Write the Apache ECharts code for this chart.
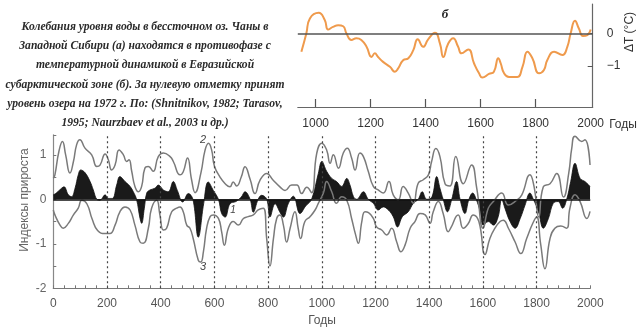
<!DOCTYPE html>
<html><head><meta charset="utf-8">
<script src="https://cdn.jsdelivr.net/npm/echarts@6/dist/echarts.min.js"></script>
<style>html,body{margin:0;padding:0;background:#fff}#c{width:640px;height:329px}</style>
</head><body><div id="c"></div>
<script>
// Top panel (б): temperature anomaly
const tYears = [948,966,979,1011,1033,1045,1063,1082,1100,1112,1130,1148,1166,1185,1203,1215,1227,1245,1270,1288,1300,1318,1337,1355,1371,1391,1409,1434,1452,1464,1482,1500,1518,1530,1555,1576,1594,1606,1630,1648,1664,1673,1685,1703,1733,1752,1770,1788,1812,1830,1842,1867,1897,1915,1927,1943,1957,1972,1988,2000];
const tVals  = [-0.56,0,0.46,0.63,0.41,0.12,0.2,0.25,0.22,0,-0.2,-0.15,-0.2,-0.41,-0.72,-0.61,-0.72,-0.87,-1.02,-1.17,-1.07,-0.82,-0.76,-0.51,-0.18,-0.41,-0.18,0.02,-0.31,-0.72,-0.31,-0.15,-0.41,-0.61,-0.49,-0.92,-1.22,-1.35,-1.24,-1.17,-0.76,-0.92,-1.22,-1.33,-1.33,-1.02,-0.56,-0.76,-1.22,-1.12,-0.82,-0.56,-0.66,-0.41,0,0.39,0.15,-0.08,-0.05,0.12];
const topXTicks = [1000,1200,1400,1600,1800];
const topXLabels = [1000,1200,1400,1600,1800,2000];
const topYLabels = [0,-1];

// Bottom panel: growth indices, curve 2 (upper)
const u2Years = [0,6,21,34,46,62,75,87,99,118,143,162,174,193,205,217,230,245,261,273,282,292,304,317,329,341,354,372,391,410,435,447,472,484,500,515,528,550,565,578,590,600,621,640,658,670,683,700,714,733,751,770,795,819,844,863,888,907,925,944,962,981,1000,1018,1031,1043,1062,1080,1095,1111,1124,1142,1155,1173,1192,1210,1229,1250,1266,1285,1303,1322,1341,1359,1378,1397,1409,1425,1440,1459,1477,1499,1527,1558,1577,1601,1620,1639,1670,1695,1726,1745,1775,1790,1808,1825,1850,1875,1900,1920,1931,1943,1968,1980,1999];
const u2Vals  = [0.47,0.55,1.08,1.3,1.0,0.59,0.85,1.23,1.34,1.15,1.0,0.74,0.77,1.02,0.89,0.66,0.77,1.11,1.0,0.85,0.89,0.63,0.29,0.17,0.29,0.7,0.74,0.63,0.96,1.04,0.96,0.85,0.55,0.62,0.93,0.44,0.15,0.6,1.1,1.26,1.1,0.75,0.5,0.35,0.28,0.39,0.3,0.5,0.73,0.45,0.13,0.43,0.58,0.43,0.28,0.2,0.32,0.32,0.13,0.27,0.15,1.03,1.26,1.11,0.81,1.0,0.7,1.04,1.15,0.93,0.66,1.04,0.96,0.63,0.29,0.21,0.14,0.4,0.1,-0.01,0.29,0.14,-0.09,0.36,0.44,0.55,0.85,1.14,0.96,0.35,0.3,0.96,0.35,0.77,0.25,-0.65,-0.2,-0.05,0.14,-0.13,-0.02,0.1,0.55,0.3,-0.4,0.28,0.35,0.58,0.05,0.6,1.15,1.42,1.3,1.34,0.77];

// curve 3 (lower)
const l3Years = [0,6,25,37,56,75,93,106,125,145,165,193,211,230,248,267,286,304,323,335,354,366,385,397,410,422,441,459,472,484,497,509,521,540,549,559,571,584,596,615,627,637,652,670,689,708,726,745,763,782,795,807,820,832,844,857,869,882,900,912,921,937,956,975,987,1006,1018,1037,1055,1074,1093,1111,1126,1136,1149,1161,1174,1192,1204,1223,1242,1260,1279,1295,1310,1329,1347,1366,1385,1403,1415,1434,1452,1471,1480,1508,1527,1545,1564,1585,1608,1626,1645,1664,1676,1695,1720,1741,1763,1785,1800,1815,1831,1850,1868,1890,1912,1924,1943,1962,1987,1999];
const l3Vals  = [-0.24,-0.35,-0.58,-0.65,-0.54,-0.35,-0.2,-0.02,-0.1,-0.45,-0.7,-0.77,-0.77,-0.58,-0.28,-0.17,-0.24,-0.58,-0.96,-0.99,-0.65,-0.2,-0.02,-0.35,-0.69,-0.65,-0.28,-0.2,-0.17,-0.28,-0.58,-0.65,-0.88,-1.37,-1.41,-1.18,-0.65,-0.39,-0.35,-0.43,-0.73,-1.03,-0.65,-0.5,-0.58,-0.43,-0.39,-0.35,-0.24,-0.2,-0.9,-1.5,-0.88,-0.43,-0.35,-0.58,-0.96,-0.65,-0.28,-0.65,-0.88,-0.5,-0.39,-0.24,-0.09,0.14,0.4,0.17,-0.09,0.06,-0.02,-0.43,-0.8,-0.99,-0.5,-0.28,-0.3,-0.43,-0.62,-0.69,-0.8,-0.65,-0.96,-1.18,-1.03,-0.65,-0.5,-0.32,-0.35,-0.54,-0.28,-0.05,-0.32,-0.73,-0.65,-0.35,-0.65,-0.55,-0.35,-0.5,-1.24,-0.88,-0.65,-0.5,-0.47,-0.65,-0.96,-1.22,-0.88,-0.55,-0.4,-1.0,-1.56,-0.88,-0.65,-0.6,-0.65,-0.2,0.1,-0.05,-0.43,-0.27];

// curve 1 (mean, filled black)
const m1Years = [0,11,31,40,56,68,81,93,102,118,137,149,162,174,193,205,220,236,248,267,286,298,310,323,329,339,348,360,379,391,410,428,447,462,482,503,520,540,560,577,596,615,627,640,658,680,700,714,733,745,763,776,795,807,826,845,857,875,894,919,940,962,987,1000,1018,1037,1055,1074,1093,1105,1118,1130,1155,1173,1192,1210,1229,1248,1266,1282,1300,1322,1341,1359,1374,1391,1410,1428,1440,1452,1468,1484,1502,1515,1533,1548,1562,1575,1590,1601,1620,1639,1657,1670,1682,1701,1720,1739,1757,1775,1788,1807,1825,1844,1862,1880,1897,1912,1927,1943,1962,1980,1999];
const m1Vals  = [0.1,0.14,0.25,0.28,0.1,0.06,0.25,0.55,0.66,0.6,0.4,0.21,0,-0.02,0.1,0.02,0.02,0.32,0.51,0.4,0.29,0.17,0,-0.43,-0.54,-0.2,0.14,0.21,0.25,0.32,0.21,0.17,0.4,0.2,-0.06,0.13,0,-0.85,-0.1,0.39,0.2,0,-0.32,-0.4,-0.1,-0.05,0.05,0.17,0,-0.29,0,0.09,0,-0.4,-0.1,-0.3,-0.4,-0.1,0.07,-0.32,-0.15,0,0.58,0.85,0.63,0.47,0.4,0.29,0.47,0.32,0.06,0,0.17,0,-0.09,-0.24,-0.17,-0.24,-0.39,-0.62,-0.39,-0.28,-0.09,0,0.17,0,0.05,0.51,0.25,0,-0.28,0,0.4,0,-0.32,0,0.14,0,-0.28,-0.58,-0.5,-0.58,-0.39,0,-0.2,-0.5,-0.65,-0.43,-0.13,0.14,0,-0.28,-0.65,-0.43,-0.09,-0.05,-0.2,0,0.4,0.81,0.47,0.4,0.29];
const botDashed = [200,400,600,800,1000,1200,1400,1600,1800];

const zip = (a,b) => a.map((x,i)=>[x,b[i]]);
const minus = v => (v < 0 ? '\u2212' + Math.abs(v) : String(v));
const plain = v => String(v);

const chart = echarts.init(document.getElementById('c'), null, {renderer:'canvas'});
const capLines = [
 'Колебания уровня воды в бессточном оз. Чаны в',
 'Западной Сибири (а) находятся в противофазе с',
 'температурной динамикой в Евразийской',
 'субарктической зоне (б). За нулевую отметку принят',
 'уровень озера на 1972 г. По: (Shnitnikov, 1982; Tarasov,',
 '1995; Naurzbaev et al., 2003 и др.)'
];
const graphic = capLines.map((t,i)=>({type:'text', x:145, y:27+i*19.2,
  style:{text:t, fill:'#2a2a2a', font:'italic bold 11.6px "Liberation Serif"', textAlign:'center', textVerticalAlign:'middle'}}));
graphic.push(
 {type:'text', x:445, y:15, style:{text:'б', fill:'#222', font:'italic bold 13px "Liberation Serif"', textAlign:'center', textVerticalAlign:'middle'}},
 {type:'text', x:630, y:32, rotation:Math.PI/2, style:{text:'ΔT (°C)', fill:'#333', font:'12px "Liberation Sans"', textAlign:'center', textVerticalAlign:'middle'}},
 {type:'text', x:623, y:125, style:{text:'Годы', fill:'#333', font:'12px "Liberation Sans"', textAlign:'center', textVerticalAlign:'middle'}},
 {type:'text', x:322, y:321, style:{text:'Годы', fill:'#555', font:'12px "Liberation Sans"', textAlign:'center', textVerticalAlign:'middle'}},
 {type:'text', x:25, y:200, rotation:Math.PI/2, style:{text:'Индексы прироста', fill:'#666', font:'12px "Liberation Sans"', textAlign:'center', textVerticalAlign:'middle'}},
 {type:'text', x:203, y:140, style:{text:'2', fill:'#444', font:'italic 11px "Liberation Sans"', textAlign:'center', textVerticalAlign:'middle'}},
 {type:'text', x:203, y:267, style:{text:'3', fill:'#444', font:'italic 11px "Liberation Sans"', textAlign:'center', textVerticalAlign:'middle'}},
 {type:'text', x:233, y:210, style:{text:'1', fill:'#444', font:'italic 10px "Liberation Sans"', textAlign:'center', textVerticalAlign:'middle'}}
);

const option = {
 animation:false,
 graphic: graphic,
 grid:[
  {left:297.8, top:4, width:294.9, height:103},
  {left:53.3, top:134.8, width:537, height:153.5}
 ],
 xAxis:[
  {gridIndex:0, type:'value', min:935, max:2007.3,
   axisLine:{show:true, onZero:false, lineStyle:{color:'#666', width:1.2}},
   axisTick:{show:true, inside:true, length:8, customValues:topXTicks, lineStyle:{color:'#555', width:1.2}},
   axisLabel:{show:true, customValues:topXLabels, formatter:plain, color:'#333', fontSize:12, fontFamily:'Liberation Sans', margin:11},
   splitLine:{show:false}},
  {gridIndex:1, type:'value', min:0, max:2000, interval:200,
   axisLine:{show:true, onZero:false, lineStyle:{color:'#777', width:1.2}},
   axisTick:{show:true, inside:true, length:3, lineStyle:{color:'#777'}},
   minorTick:{show:true, splitNumber:5, length:3, lineStyle:{color:'#777'}},
   axisLabel:{formatter:plain, color:'#555', fontSize:12, fontFamily:'Liberation Sans', margin:9},
   splitLine:{show:false}}
 ],
 yAxis:[
  {gridIndex:0, type:'value', position:'right', min:-2.25, max:0.9,
   axisLine:{show:true, onZero:false, lineStyle:{color:'#666', width:1.2}},
   axisTick:{show:true, inside:true, length:5, customValues:topYLabels, lineStyle:{color:'#555'}},
   axisLabel:{customValues:topYLabels, formatter:minus, color:'#333', fontSize:12, fontFamily:'Liberation Sans', margin:14},
   splitLine:{show:false}},
  {gridIndex:1, type:'value', min:-2, max:1.45, interval:0.5,
   axisLine:{show:true, onZero:false, lineStyle:{color:'#888', width:1.2}},
   axisTick:{show:true, inside:true, length:3, lineStyle:{color:'#777'}},
   axisLabel:{color:'#666', fontSize:12, fontFamily:'Liberation Sans', margin:7,
     formatter: v => (Math.abs(v - Math.round(v)) < 1e-9 ? (v < 0 ? '-' + Math.abs(v) : String(v)) : '')},
   splitLine:{show:false}}
 ],
 series:[
  {type:'line', xAxisIndex:0, yAxisIndex:0, data:zip(tYears,tVals), smooth:0.5, symbol:'none',
   lineStyle:{color:'#ef9a4c', width:2},
   markLine:{silent:true, symbol:'none', label:{show:false}, lineStyle:{color:'#555', width:1.5, type:'solid'}, data:[{yAxis:0}]}},
  {type:'line', xAxisIndex:1, yAxisIndex:1, data:zip(m1Years,m1Vals), smooth:0.4, symbol:'none',
   lineStyle:{color:'#111', width:0.8}, areaStyle:{color:'#1a1a1a', opacity:1},
   markLine:{silent:true, symbol:'none', label:{show:false}, lineStyle:{color:'#111', width:1.5, type:'solid'}, data:[{yAxis:0}]}},
  {type:'line', xAxisIndex:1, yAxisIndex:1, data:zip(u2Years,u2Vals), smooth:0.5, symbol:'none',
   lineStyle:{color:'#7a7a7a', width:1.5},
   markLine:{silent:true, symbol:'none', label:{show:false}, lineStyle:{color:'#444', width:1.2, type:[2,3]},
     data: botDashed.map(v=>({xAxis:v}))}},
  {type:'line', xAxisIndex:1, yAxisIndex:1, data:zip(l3Years,l3Vals), smooth:0.5, symbol:'none',
   lineStyle:{color:'#7a7a7a', width:1.5}}
 ]
};
chart.setOption(option);
</script></body></html>
